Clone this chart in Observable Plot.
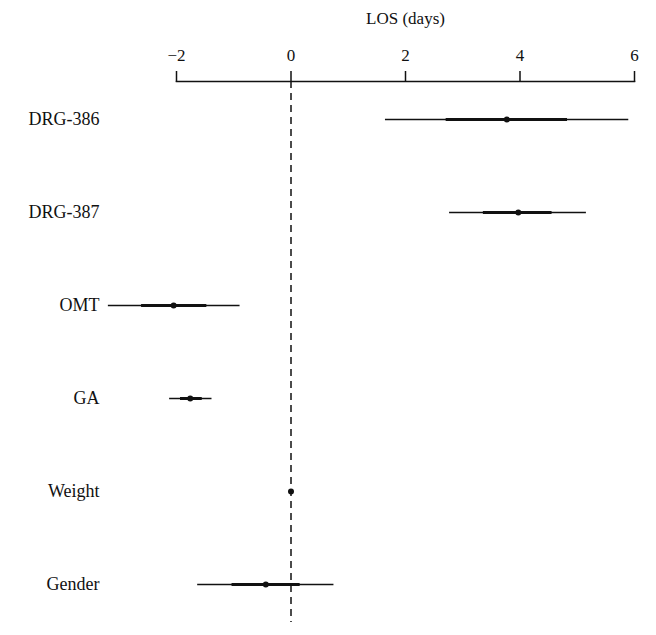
<!DOCTYPE html>
<html>
<head>
<meta charset="utf-8">
<script src="https://cdn.jsdelivr.net/npm/d3@7"></script>
<script src="https://cdn.jsdelivr.net/npm/@observablehq/plot@0.6"></script>
<style>
  body { margin: 0; background: #fff; }
  #chart svg { font-family: "Liberation Serif", "DejaVu Serif", serif; }
</style>
</head>
<body>
<div id="chart"></div>
<script>
const variables = ["DRG-386", "DRG-387", "OMT", "GA", "Weight", "Gender"];
const estimate  = [3.77, 3.97, -2.05, -1.76, 0.0, -0.44];
const outerLow  = [1.65, 2.77, -3.19, -2.12, -0.03, -1.63];
const outerHigh = [5.90, 5.16, -0.89, -1.38, 0.03, 0.75];
const innerLow  = [2.71, 3.36, -2.61, -1.93, -0.02, -1.03];
const innerHigh = [4.83, 4.56, -1.47, -1.55, 0.02, 0.16];
const xTicks = [-2, 0, 2, 4, 6];

const data = variables.map((v, i) => ({
  v, est: estimate[i], lo: outerLow[i], hi: outerHigh[i], ilo: innerLow[i], ihi: innerHigh[i]
}));

const chart = Plot.plot({
  width: 656,
  height: 635,
  marginTop: 81,
  marginBottom: 13,
  marginLeft: 176,
  marginRight: 22,
  style: {fontFamily: '"Liberation Serif", "DejaVu Serif", serif', fontSize: "17px", color: "#111", background: "#fff"},
  x: {domain: [-2, 6]},
  y: {type: "point", domain: variables, range: [117, 586], padding: 0},
  marks: [
    Plot.frame({anchor: "top", stroke: "#111", strokeWidth: 1.5}),
    Plot.axisX({anchor: "top", ticks: xTicks, tickSize: 11, tickPadding: 10, tickFormat: d => (d < 0 ? "\u2212" + Math.abs(d) : String(d)), label: null, fontSize: 17, strokeWidth: 1.5}),
    Plot.axisY({tickSize: 0, tickPadding: 77, label: null, fontSize: 18}),
    Plot.text(["LOS (days)"], {frameAnchor: "top", lineAnchor: "middle", dy: -63, fontSize: 17}),
    Plot.ruleX([0], {stroke: "#111", strokeWidth: 1.5, strokeDasharray: "7,5"}),
    Plot.ruleY(data, {y: "v", x1: "lo", x2: "hi", stroke: "#111", strokeWidth: 1.5}),
    Plot.ruleY(data, {y: "v", x1: "ilo", x2: "ihi", stroke: "#111", strokeWidth: 3}),
    Plot.dot(data, {x: "est", y: "v", r: 3, fill: "#111", stroke: null})
  ]
});
document.getElementById("chart").appendChild(chart);
</script>
</body>
</html>
